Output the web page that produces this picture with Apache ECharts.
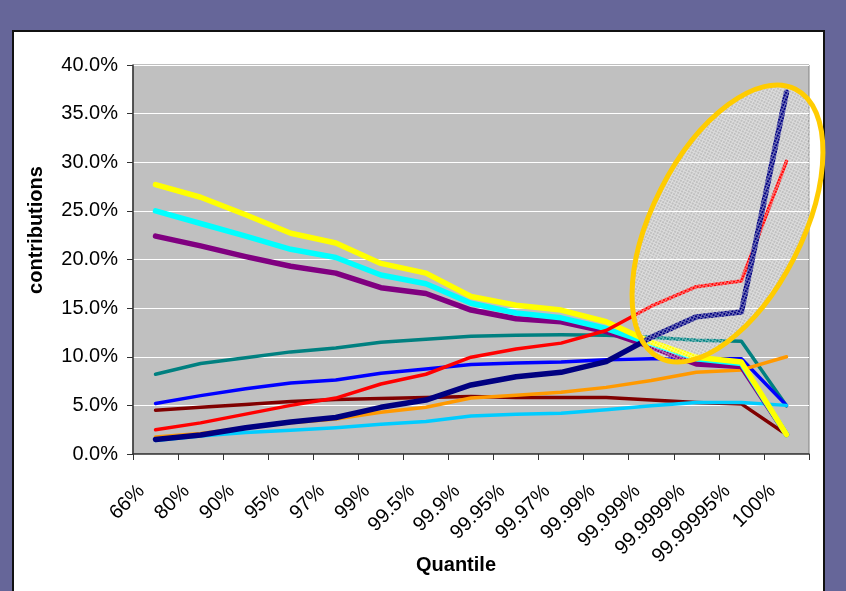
<!DOCTYPE html>
<html>
<head>
<meta charset="utf-8">
<script src="https://cdn.jsdelivr.net/npm/echarts@6/dist/echarts.min.js"></script>
<style>
  html, body { margin: 0; padding: 0; background: #666699; }
  #chart { width: 846px; height: 591px; }
</style>
</head>
<body>
<div id="chart"></div>
<script>
// x categories
const quantiles = ["66%", "80%", "90%", "95%", "97%", "99%", "99.5%", "99.9%", "99.95%",
  "99.97%", "99.99%", "99.999%", "99.9999%", "99.99995%", "100%"];
const yTicks = [0, 5, 10, 15, 20, 25, 30, 35, 40];

// contributions in %
const yellowData = [27.7, 26.4, 24.6, 22.7, 21.7, 19.6, 18.6, 16.2, 15.3, 14.8, 13.6, 11.5, 9.95, 9.45, 2.0];
const cyanData = [25.0, 23.7, 22.4, 21.05, 20.2, 18.4, 17.5, 15.5, 14.5, 14.0, 12.9, 11.35, 9.8, 9.3, 2.0];
const purpleData = [22.4, 21.4, 20.3, 19.3, 18.6, 17.1, 16.5, 14.8, 13.9, 13.6, 12.6, 11.0, 9.25, 9.0, 2.0];
const tealData = [8.2, 9.3, 9.9, 10.5, 10.9, 11.5, 11.8, 12.1, 12.2, 12.25, 12.2, 12.0, 11.7, 11.6, 4.95];
const blueData = [5.2, 6.0, 6.7, 7.3, 7.6, 8.3, 8.75, 9.2, 9.35, 9.45, 9.7, 9.8, 9.8, 9.8, 5.0];
const darkRedData = [4.5, 4.8, 5.1, 5.4, 5.6, 5.7, 5.8, 5.9, 5.8, 5.8, 5.8, 5.55, 5.3, 5.15, 2.0];
const redData = [2.5, 3.2, 4.1, 5.0, 5.75, 7.2, 8.2, 9.95, 10.8, 11.4, 12.7, 15.2, 17.2, 17.8, 30.1];
const navyData = [1.5, 1.95, 2.7, 3.3, 3.75, 4.8, 5.55, 7.1, 7.95, 8.4, 9.5, 12.0, 14.1, 14.6, 37.2];
const orangeData = [1.75, 2.1, 2.7, 3.2, 3.6, 4.3, 4.8, 5.75, 6.05, 6.35, 6.85, 7.55, 8.4, 8.65, 10.0];
const skyBlueData = [1.4, 1.85, 2.2, 2.45, 2.7, 3.05, 3.35, 3.9, 4.1, 4.2, 4.55, 4.95, 5.3, 5.3, 5.0];

// draw order: later ones on top
const lines = [
  { name: "darkred", data: darkRedData, color: "#800000", width: 3.5 },
  { name: "teal", data: tealData, color: "#008080", width: 3.5 },
  { name: "blue", data: blueData, color: "#0000ff", width: 3.5 },
  { name: "skyblue", data: skyBlueData, color: "#00ccff", width: 3.5 },
  { name: "orange", data: orangeData, color: "#ff9900", width: 3.5 },
  { name: "purple", data: purpleData, color: "#800080", width: 5.5 },
  { name: "cyan", data: cyanData, color: "#00ffff", width: 5.5 },
  { name: "yellow", data: yellowData, color: "#ffff00", width: 5.5 },
  { name: "red", data: redData, color: "#ff0000", width: 3.5 },
  { name: "navy", data: navyData, color: "#000080", width: 5.5 },
];

// hatch pattern for the highlight ellipse
const pat = document.createElement("canvas");
pat.width = 3;
pat.height = 3;
const pc = pat.getContext("2d");
pc.fillStyle = "rgba(255,255,255,0.45)";
pc.fillRect(0, 0, 3, 1);
pc.fillRect(0, 1, 1, 2);

const chart = echarts.init(document.getElementById("chart"), null, { renderer: "canvas" });

const option = {
  backgroundColor: "#666699",
  animation: false,
  textStyle: { fontFamily: "Liberation Sans, Arial, sans-serif" },
  grid: {
    left: 133,
    top: 65,
    width: 676,
    height: 389,
    show: true,
    backgroundColor: "#c0c0c0",
    borderColor: "#808080",
    borderWidth: 1,
  },
  xAxis: {
    type: "category",
    data: quantiles,
    boundaryGap: true,
    axisLine: { lineStyle: { color: "#333", width: 1.5 } },
    axisTick: { show: true, interval: 0, length: 6, lineStyle: { color: "#333" } },
    axisLabel: {
      interval: 0,
      rotate: 45,
      margin: 20,
      padding: [0, 20, 0, 0],
      color: "#000",
      fontSize: 20,
      fontFamily: "Liberation Sans",
    },
    splitLine: { show: false },
  },
  yAxis: {
    type: "value",
    min: yTicks[0],
    max: yTicks[yTicks.length - 1],
    interval: 5,
    axisLine: { show: true, lineStyle: { color: "#333", width: 1.5 } },
    axisTick: { show: true, length: 6, lineStyle: { color: "#333" } },
    axisLabel: {
      margin: 15,
      color: "#000",
      fontSize: 20,
      fontFamily: "Liberation Sans",
      formatter: (v) => v.toFixed(1) + "%",
    },
    splitLine: { show: true, lineStyle: { color: "#ffffff", width: 1 } },
  },
  series: lines.map((l) => ({
    name: l.name,
    type: "line",
    data: l.data,
    symbol: "none",
    lineStyle: { color: l.color, width: l.width, cap: "round", join: "round" },
    itemStyle: { color: l.color },
  })),
  graphic: [
    {
      type: "rect",
      z: -10,
      shape: { x: 13, y: 31, width: 811, height: 580 },
      style: { fill: "#ffffff", stroke: "#111", lineWidth: 2 },
      silent: true,
    },
    {
      type: "text",
      x: 36,
      y: 230,
      rotation: Math.PI / 2,
      style: {
        text: "contributions",
        font: "bold 20px Liberation Sans",
        fill: "#000",
        textAlign: "center",
        textVerticalAlign: "middle",
        align: "center",
        verticalAlign: "middle",
      },
    },
    {
      type: "text",
      x: 456,
      y: 565,
      style: {
        text: "Quantile",
        font: "bold 20px Liberation Sans",
        fill: "#000",
        textAlign: "center",
        textVerticalAlign: "middle",
        align: "center",
        verticalAlign: "middle",
      },
    },
    {
      type: "ellipse",
      z: 100,
      x: 727.5,
      y: 223.5,
      rotation: (63.1 * Math.PI) / 180,
      shape: { cx: 0, cy: 0, rx: 150.5, ry: 75 },
      style: {
        fill: { image: pat, repeat: "repeat" },
        stroke: "#ffcc00",
        lineWidth: 5,
      },
      silent: true,
    },
  ],
};

chart.setOption(option);
</script>
</body>
</html>
